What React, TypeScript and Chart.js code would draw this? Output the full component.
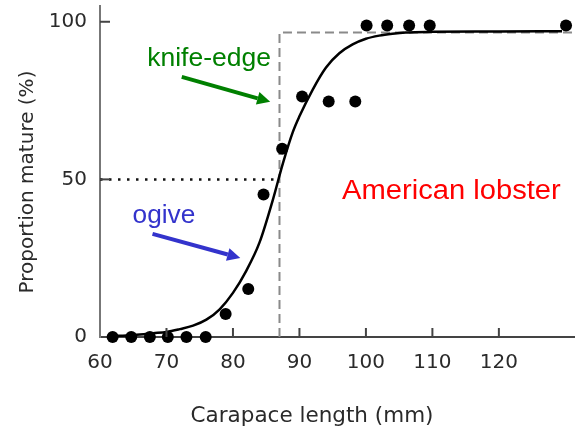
import React, { useEffect, useRef } from "react";
import { Chart, registerables } from "chart.js";
Chart.register(...registerables);

// Fitted ogive curve
const curveX = [62, 64, 66, 68, 70, 72, 74, 76, 78, 80, 82, 84, 86, 87.5, 89, 90, 92, 94, 96, 98, 100, 102, 104, 106, 110, 120, 129.5];
const curveY = [0.3, 0.5, 0.8, 1.2, 1.6, 2.5, 3.6, 5.5, 8.8, 14, 21, 30, 43.5, 55, 65, 70, 78.5, 85.5, 90, 92.8, 94.6, 95.6, 96.2, 96.6, 96.8, 96.9, 97];

// Observed proportions (dots)
const dotX = [61.9, 64.7, 67.5, 70.2, 73.0, 75.9, 78.9, 82.3, 84.6, 87.4, 90.4, 94.4, 98.4, 100.1, 103.2, 106.5, 109.6, 130.1];
const dotY = [0, 0, 0, 0, 0, 0, 7.3, 15.2, 45.2, 59.7, 76.3, 74.7, 74.7, 98.8, 98.8, 98.8, 98.8, 98.8];

// Knife-edge step and 50% reference
const knifeX = [87.0, 87.0, 131.3];
const knifeY = [0, 96.6, 96.6];
const halfX = [60, 87.0];
const halfY = [50, 50];

const xTicks = [60, 70, 80, 90, 100, 110, 120];
const yTicks = [0, 50, 100];
const xTitle = "Carapace length (mm)";
const yTitle = "Proportion mature (%)";

const noteText = ["knife-edge", "ogive", "American lobster"];
const noteX = [67.1, 64.9, 96.4];
const noteY = [86.0, 36.2, 43.8];
const noteColor = ["#008000", "#3333cc", "#ff0000"];
const noteSize = [25, 25, 27];
const noteStretch = [1.06, 1.05, 1.08];

const arrowX0 = [72.3, 67.9];
const arrowY0 = [82.5, 32.7];
const arrowX1 = [85.6, 81.1];
const arrowY1 = [74.6, 25.1];
const arrowColor = ["#008000", "#3333cc"];

const pts = (xs: number[], ys: number[]) => xs.map((x, i) => ({ x, y: ys[i] }));

const deco = {
  id: "deco",
  afterDatasetsDraw(chart: any) {
    const { ctx, chartArea, scales } = chart;
    const xs = scales.x;
    const ys = scales.y;
    ctx.save();
    // inside tick marks
    ctx.strokeStyle = "#444";
    ctx.lineWidth = 2;
    xTicks.forEach((v, i) => {
      if (i === 0) return;
      const px = xs.getPixelForValue(v);
      ctx.beginPath();
      ctx.moveTo(px, chartArea.bottom);
      ctx.lineTo(px, chartArea.bottom - 9);
      ctx.stroke();
    });
    yTicks.forEach((v, i) => {
      if (i === 0) return;
      const py = ys.getPixelForValue(v);
      ctx.beginPath();
      ctx.moveTo(chartArea.left, py);
      ctx.lineTo(chartArea.left + 10, py);
      ctx.stroke();
    });
    // arrows
    arrowX0.forEach((_, i) => {
      const x0 = xs.getPixelForValue(arrowX0[i]);
      const y0 = ys.getPixelForValue(arrowY0[i]);
      const x1 = xs.getPixelForValue(arrowX1[i]);
      const y1 = ys.getPixelForValue(arrowY1[i]);
      const ang = Math.atan2(y1 - y0, x1 - x0);
      const hl = 13;
      const hw = 6.5;
      const bx = x1 - hl * Math.cos(ang);
      const by = y1 - hl * Math.sin(ang);
      ctx.strokeStyle = arrowColor[i];
      ctx.fillStyle = arrowColor[i];
      ctx.lineWidth = 4;
      ctx.beginPath();
      ctx.moveTo(x0, y0);
      ctx.lineTo(bx, by);
      ctx.stroke();
      ctx.beginPath();
      ctx.moveTo(x1, y1);
      ctx.lineTo(bx + hw * Math.sin(ang), by - hw * Math.cos(ang));
      ctx.lineTo(bx - hw * Math.sin(ang), by + hw * Math.cos(ang));
      ctx.closePath();
      ctx.fill();
    });
    // notes
    ctx.textAlign = "left";
    ctx.textBaseline = "alphabetic";
    noteText.forEach((t, i) => {
      ctx.save();
      ctx.fillStyle = noteColor[i];
      ctx.font = `${noteSize[i]}px "Liberation Sans", Arial, sans-serif`;
      ctx.translate(xs.getPixelForValue(noteX[i]), ys.getPixelForValue(noteY[i]));
      ctx.scale(noteStretch[i], 1);
      ctx.fillText(t, 0, 0);
      ctx.restore();
    });
    // axis titles
    ctx.fillStyle = "#2a2a2a";
    ctx.font = `21.5px "DejaVu Sans", sans-serif`;
    ctx.textAlign = "center";
    ctx.fillText(xTitle, 312, 422);
    ctx.save();
    ctx.translate(33, 182);
    ctx.rotate(-Math.PI / 2);
    ctx.font = `20px "DejaVu Sans", sans-serif`;
    ctx.fillText(yTitle, 0, 0);
    ctx.restore();
    ctx.restore();
  },
};

export default function App() {
  const ref = useRef<HTMLCanvasElement | null>(null);
  useEffect(() => {
    if (!ref.current) return;
    const chart = new Chart(ref.current, {
      type: "scatter",
      data: {
        datasets: [
          {
            label: "observed",
            data: pts(dotX, dotY),
            backgroundColor: "#000",
            borderWidth: 0,
            pointRadius: 6,
            showLine: false,
            order: 0,
            clip: false,
          } as any,
          {
            label: "ogive",
            data: pts(curveX, curveY),
            borderColor: "#000",
            borderWidth: 2.5,
            pointRadius: 0,
            showLine: true,
            cubicInterpolationMode: "monotone",
            order: 1,
            clip: false,
          } as any,
          {
            label: "knife-edge",
            data: pts(knifeX, knifeY),
            borderColor: "#8a8a8a",
            borderWidth: 2,
            borderDash: [9, 5],
            pointRadius: 0,
            showLine: true,
            tension: 0,
            order: 2,
            clip: false,
          } as any,
          {
            label: "50%",
            data: pts(halfX, halfY),
            borderColor: "#111",
            borderWidth: 2.5,
            borderDash: [2.5, 6.5],
            pointRadius: 0,
            showLine: true,
            order: 3,
            clip: false,
          } as any,
        ],
      },
      options: {
        animation: false,
        responsive: true,
        maintainAspectRatio: false,
        layout: { padding: { top: 6, right: 0, left: 0, bottom: 0 } },
        plugins: { legend: { display: false }, tooltip: { enabled: false }, title: { display: false } },
        scales: {
          x: {
            type: "linear",
            min: 60,
            max: 131.3,
            grid: { display: false, drawTicks: false },
            border: { display: true, color: "#444", width: 2 },
            afterBuildTicks: (s: any) => {
              s.ticks = xTicks.map((v) => ({ value: v }));
            },
            afterFit: (s: any) => {
              s.height = 93;
              s.paddingLeft = 0;
              s.paddingRight = 0;
            },
            ticks: {
              padding: 14,
              color: "#2a2a2a",
              font: { family: '"DejaVu Sans", sans-serif', size: 20 },
              callback: (v: any) => String(v),
              maxRotation: 0,
            },
          },
          y: {
            type: "linear",
            min: 0,
            max: 105,
            grid: { display: false, drawTicks: false },
            border: { display: true, color: "#777", width: 2 },
            afterBuildTicks: (s: any) => {
              s.ticks = yTicks.map((v) => ({ value: v }));
            },
            afterFit: (s: any) => {
              s.width = 100;
              s.paddingTop = 0;
              s.paddingBottom = 0;
            },
            ticks: {
              padding: 13,
              color: "#2a2a2a",
              font: { family: '"DejaVu Sans", sans-serif', size: 20 },
              callback: (v: any) => String(v),
            },
          },
        },
      },
      plugins: [deco],
    });
    return () => chart.destroy();
  }, []);
  return (
    <div style={{ position: "fixed", left: 0, top: 0, width: 580, height: 430, background: "#fff" }}>
      <canvas ref={ref} />
    </div>
  );
}
